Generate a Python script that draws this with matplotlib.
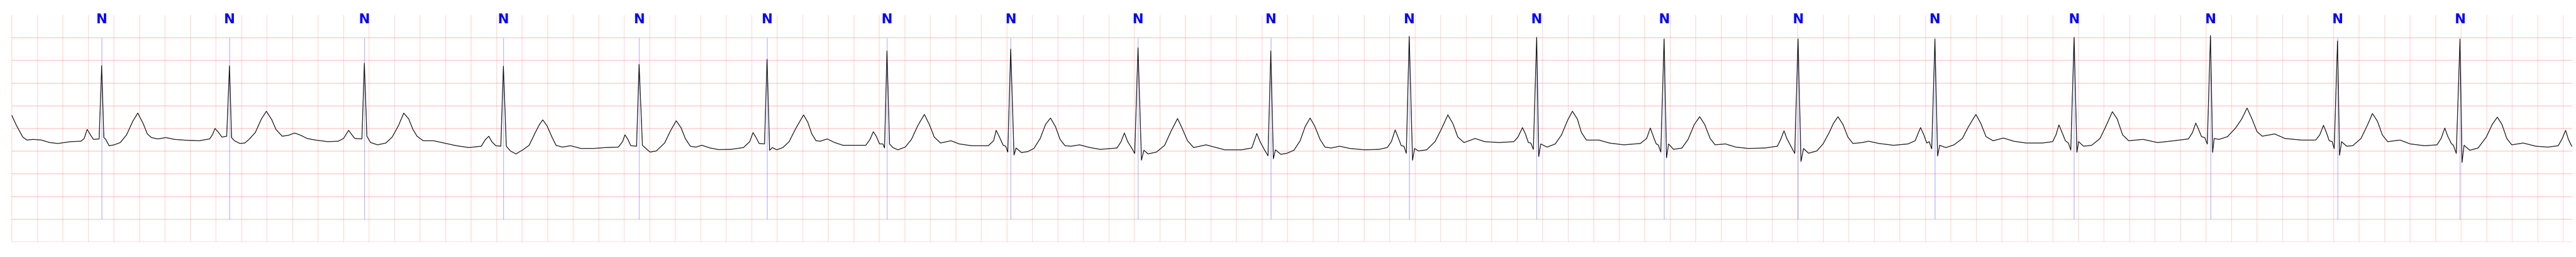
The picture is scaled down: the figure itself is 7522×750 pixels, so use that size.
import matplotlib
matplotlib.use("Agg")
from matplotlib import pyplot as plt

# ECG trace: time (s) and amplitude (mV), one line per beat
ecg_t = [
    0.000, 0.038, 0.087, 0.119, 0.168, 0.233, 0.298, 0.363, 0.461, 0.542, 0.568, 0.591, 0.617, 0.640, 0.685,
    0.705, 0.722, 0.737, 0.763, 0.803, 0.851, 0.900, 0.949, 0.988, 1.030, 1.063, 1.095, 1.144, 1.209, 1.274, 1.372, 1.469, 1.551, 1.573, 1.593, 1.616, 1.648, 1.685,
    1.707, 1.723, 1.746, 1.788, 1.827, 1.860, 1.909, 1.957, 1.996, 2.039, 2.071, 2.120, 2.169, 2.218, 2.266, 2.315, 2.380, 2.478, 2.559, 2.601, 2.641, 2.667, 2.689, 2.745,
    2.764, 2.784, 2.813, 2.868, 2.933, 2.982, 3.031, 3.073, 3.112, 3.145, 3.177, 3.226, 3.307, 3.389, 3.486, 3.584, 3.681, 3.714, 3.740, 3.763, 3.795, 3.834,
    3.854, 3.877, 3.909, 3.952, 4.007, 4.056, 4.104, 4.137, 4.163, 4.196, 4.235, 4.267, 4.316, 4.381, 4.462, 4.560, 4.657, 4.755, 4.788, 4.807, 4.830, 4.853, 4.898,
    4.918, 4.944, 4.983, 5.004, 5.053, 5.118, 5.166, 5.209, 5.248, 5.280, 5.319, 5.362, 5.410, 5.475, 5.541, 5.638, 5.736, 5.785, 5.811, 5.833, 5.859, 5.901,
    5.921, 5.941, 5.963, 5.996, 6.045, 6.094, 6.142, 6.207, 6.240, 6.272, 6.305, 6.338, 6.393, 6.451, 6.516, 6.614, 6.695, 6.728, 6.754, 6.777, 6.803, 6.829, 6.842,
    6.861, 6.881, 6.907, 6.946, 7.004, 7.053, 7.102, 7.154, 7.193, 7.232, 7.281, 7.362, 7.427, 7.525, 7.655, 7.697, 7.717, 7.743, 7.772, 7.792, 7.808,
    7.831, 7.857, 7.873, 7.915, 7.964, 8.013, 8.062, 8.104, 8.143, 8.182, 8.218, 8.257, 8.306, 8.371, 8.452, 8.533, 8.664, 8.696, 8.722, 8.748, 8.777, 8.803,
    8.829, 8.856, 8.875, 8.908, 8.973, 9.038, 9.086, 9.139, 9.174, 9.217, 9.265, 9.363, 9.428, 9.509, 9.640, 9.721, 9.760, 9.786, 9.818, 9.848,
    9.870, 9.890, 9.906, 9.949, 9.997, 10.051, 10.100, 10.139, 10.178, 10.213, 10.256, 10.295, 10.344, 10.409, 10.490, 10.604, 10.718, 10.783, 10.815, 10.845, 10.867, 10.893, 10.913, 10.932,
    10.955, 10.981, 10.997, 11.027, 11.092, 11.157, 11.206, 11.258, 11.297, 11.336, 11.385, 11.472, 11.547, 11.661, 11.775, 11.807, 11.843, 11.866, 11.889, 11.908, 11.928,
    11.954, 11.970, 11.986, 12.035, 12.100, 12.149, 12.198, 12.234, 12.273, 12.305, 12.344, 12.442, 12.523, 12.637, 12.767, 12.816, 12.845, 12.868, 12.891, 12.907, 12.927,
    12.953, 12.972, 12.988, 13.027, 13.093, 13.141, 13.190, 13.232, 13.271, 13.314, 13.353, 13.434, 13.515, 13.613, 13.743, 13.841, 13.867, 13.893, 13.915, 13.945, 13.977,
    14.003, 14.026, 14.046, 14.085, 14.150, 14.199, 14.247, 14.280, 14.316, 14.355, 14.394, 14.433, 14.508, 14.556, 14.638, 14.752, 14.865, 14.921, 14.963, 14.989, 15.012, 15.031, 15.051,
    15.076, 15.097, 15.113, 15.162, 15.226, 15.291, 15.339, 15.397, 15.436, 15.477, 15.532, 15.613, 15.693, 15.790, 15.919, 15.999, 16.025, 16.048, 16.073, 16.099, 16.122, 16.141,
    16.167, 16.189, 16.202, 16.241, 16.305, 16.370, 16.418, 16.467, 16.505, 16.547, 16.595, 16.708, 16.821, 16.950, 17.063, 17.095, 17.121, 17.143, 17.166, 17.191, 17.211,
    17.236, 17.253, 17.265, 17.304, 17.369, 17.433, 17.481, 17.523, 17.562, 17.601, 17.642, 17.739, 17.820, 17.948, 18.061, 18.093, 18.122, 18.145, 18.167, 18.190, 18.206,
    18.232, 18.248, 18.264, 18.303, 18.351, 18.416, 18.464, 18.506, 18.545, 18.583, 18.625, 18.722, 18.802, 18.915, 19.012, 19.044, 19.073, 19.096, 19.124, 19.140, 19.163,
    19.192, 19.208, 19.224, 19.269, 19.334, 19.398, 19.447, 19.485, 19.521, 19.559, 19.598, 19.688, 19.785, 19.881, 19.962, 19.994, 20.020, 20.042, 20.068,
]
ecg_mv = [
    0.79, 0.56, 0.31, 0.245, 0.26, 0.245, 0.19, 0.17, 0.21, 0.22, 0.28, 0.48, 0.36, 0.26, 0.27,
    1.886, 0.30, 0.26, 0.12, 0.14, 0.19, 0.36, 0.66, 0.84, 0.61, 0.38, 0.30, 0.27, 0.30, 0.26, 0.24, 0.23, 0.27, 0.36, 0.50, 0.43, 0.31, 0.33,
    1.879, 0.30, 0.23, 0.17, 0.18, 0.26, 0.41, 0.71, 0.88, 0.69, 0.48, 0.33, 0.35, 0.40, 0.35, 0.28, 0.245, 0.21, 0.22, 0.28, 0.46, 0.36, 0.28, 0.27,
    1.937, 0.33, 0.19, 0.14, 0.18, 0.31, 0.56, 0.84, 0.71, 0.48, 0.33, 0.23, 0.23, 0.18, 0.12, 0.08, 0.11, 0.26, 0.33, 0.21, 0.12, 0.11,
    1.874, 0.11, 0.005, -0.06, 0.03, 0.13, 0.41, 0.59, 0.69, 0.56, 0.31, 0.13, 0.09, 0.12, 0.06, 0.06, 0.08, 0.09, 0.21, 0.36, 0.26, 0.12, 0.11,
    1.914, 0.13, 0.03, -0.02, 0.005, 0.18, 0.46, 0.67, 0.51, 0.28, 0.11, 0.09, 0.13, 0.07, 0.035, 0.04, 0.08, 0.21, 0.41, 0.31, 0.17, 0.16,
    2.025, 0.02, 0.08, 0.03, 0.08, 0.21, 0.48, 0.80, 0.64, 0.38, 0.23, 0.22, 0.27, 0.19, 0.13, 0.13, 0.13, 0.26, 0.43, 0.33, 0.16, 0.16, 0.07,
    2.21, 0.16, 0.08, 0.03, 0.09, 0.26, 0.56, 0.81, 0.59, 0.31, 0.18, 0.23, 0.16, 0.12, 0.12, 0.23, 0.46, 0.31, 0.13, 0.11, -0.02,
    2.25, -0.086, 0.07, -0.03, -0.01, 0.06, 0.28, 0.59, 0.73, 0.54, 0.26, 0.12, 0.11, 0.14, 0.08, 0.04, 0.07, 0.21, 0.40, 0.21, 0.08, -0.05,
    2.28, -0.197, 0.02, -0.06, -0.02, 0.13, 0.43, 0.72, 0.51, 0.23, 0.08, 0.14, 0.09, 0.03, 0.03, 0.07, 0.39, 0.21, 0.04, -0.10,
    2.21, -0.167, 0.03, -0.07, -0.045, 0.02, 0.23, 0.54, 0.73, 0.56, 0.26, 0.09, 0.07, 0.11, 0.06, 0.03, 0.04, 0.08, 0.21, 0.47, 0.31, 0.12, 0.11, -0.045,
    2.53, -0.20, 0.06, 0.005, 0.03, 0.21, 0.48, 0.80, 0.61, 0.31, 0.19, 0.28, 0.21, 0.19, 0.21, 0.31, 0.52, 0.38, 0.19, 0.18, 0.04,
    2.51, -0.12, 0.16, 0.09, 0.16, 0.36, 0.69, 0.88, 0.71, 0.41, 0.245, 0.245, 0.18, 0.14, 0.17, 0.28, 0.51, 0.33, 0.16, 0.14, -0.02,
    2.47, -0.146, 0.16, 0.04, 0.07, 0.26, 0.59, 0.76, 0.59, 0.28, 0.14, 0.16, 0.09, 0.06, 0.07, 0.11, 0.26, 0.45, 0.28, 0.12, -0.05,
    2.47, -0.227, 0.06, -0.045, 0.005, 0.16, 0.41, 0.61, 0.76, 0.59, 0.31, 0.17, 0.19, 0.22, 0.17, 0.13, 0.16, 0.23, 0.52, 0.36, 0.18, 0.21, 0.05,
    2.47, -0.106, 0.13, 0.08, 0.14, 0.28, 0.54, 0.81, 0.61, 0.32, 0.23, 0.29, 0.22, 0.18, 0.18, 0.21, 0.36, 0.58, 0.41, 0.23, 0.18, 0.025,
    2.51, -0.025, 0.21, 0.11, 0.13, 0.28, 0.56, 0.87, 0.71, 0.36, 0.23, 0.26, 0.19, 0.23, 0.27, 0.41, 0.62, 0.48, 0.32, 0.30, 0.157,
    2.55, -0.025, 0.28, 0.26, 0.32, 0.51, 0.71, 0.95, 0.71, 0.43, 0.33, 0.38, 0.28, 0.245, 0.245, 0.36, 0.57, 0.41, 0.23, 0.21, 0.056,
    2.43, -0.09, 0.21, 0.11, 0.12, 0.28, 0.56, 0.83, 0.66, 0.36, 0.21, 0.245, 0.16, 0.12, 0.14, 0.28, 0.51, 0.33, 0.17, 0.13, -0.05,
    2.47, -0.247, 0.13, 0.02, 0.07, 0.31, 0.60, 0.75, 0.59, 0.28, 0.14, 0.18, 0.11, 0.09, 0.12, 0.28, 0.46, 0.26, 0.11,
]

# beat annotations (R-peak times) and their labels
beat_t = [0.705, 1.707, 2.764, 3.854, 4.918, 5.921, 6.861, 7.831, 8.829, 9.870,
          10.955, 11.954, 12.953, 14.003, 15.076, 16.167, 17.236, 18.232, 19.192]
beat_labels = ['N'] * len(beat_t)

# grid: 0.2 s big boxes, 0.5 mV big boxes
x_ticks = [i * 0.2 for i in range(101)]
y_ticks = [-2.0, -1.5, -1.0, -0.5, 0.0, 0.5, 1.0, 1.5, 2.0, 2.5]

fig = plt.figure(figsize=(75.22, 7.5), dpi=100)
ax = fig.add_axes([0.00456, 0.0587, 0.99398, 0.8826])

ax.plot(ecg_t, ecg_mv, color='black', linewidth=1.4, zorder=3)

ax.vlines(beat_t, -1.5, 2.5, colors='blue', linewidth=0.8, alpha=0.5, zorder=2)
for t, lab in zip(beat_t, beat_labels):
    ax.text(t, 2.9, lab, color='blue', fontsize=28, fontweight='bold',
            family=['Liberation Sans Narrow', 'DejaVu Sans'],
            ha='center', va='center', zorder=4)

ax.set_xlim(0, 20.072)
ax.set_ylim(-2.0, 3.0)
ax.set_xticks(x_ticks)
ax.set_yticks(y_ticks)
ax.grid(axis='x', color='red', alpha=0.25, linewidth=0.9)
ax.grid(axis='y', color='red', alpha=0.25, linewidth=1.3)
ax.tick_params(length=0, labelleft=False, labelbottom=False)
for s in ax.spines.values():
    s.set_visible(False)

fig.savefig('out.png', dpi=100)
